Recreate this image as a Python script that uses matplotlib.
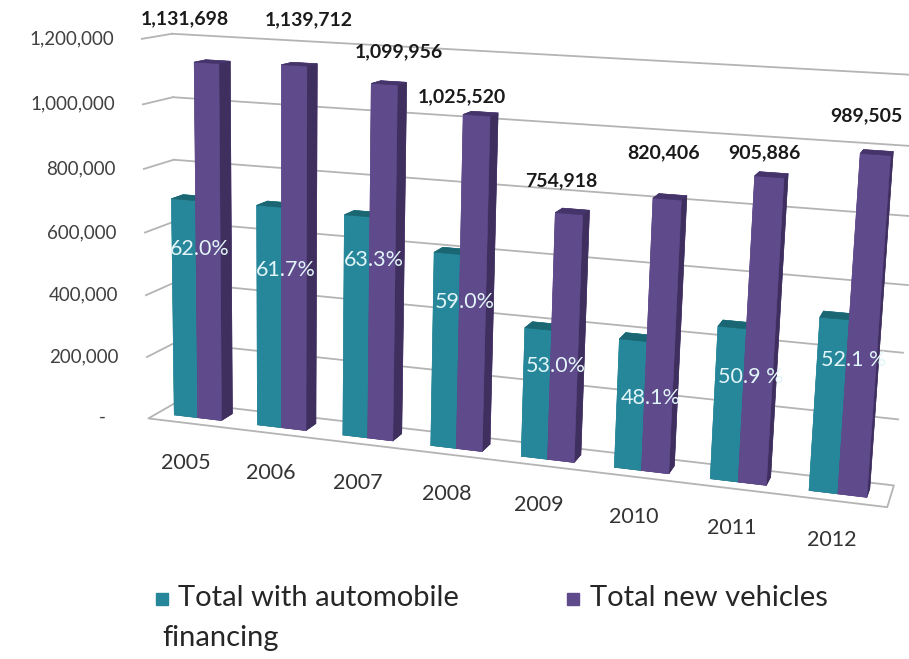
import numpy as np
import matplotlib
matplotlib.use("Agg")
import matplotlib.pyplot as plt
import matplotlib.transforms as mtransforms
from matplotlib.patches import Rectangle
from mpl_toolkits.mplot3d.art3d import Poly3DCollection

# data
years = ["2005", "2006", "2007", "2008", "2009", "2010", "2011", "2012"]
total_new = [1131698, 1139712, 1099956, 1025520, 754918, 820406, 905886, 989505]
pct_labels = ["62.0%", "61.7%", "63.3%", "59.0%", "53.0%", "48.1%", "50.9 %", "52.1 %"]
y_ticks = [0, 200000, 400000, 600000, 800000, 1000000, 1200000]
y_tick_labels = ["-   ", "200,000", "400,000", "600,000", "800,000",
                 "1,000,000", "1,200,000"]
legend_labels = ["Total with automobile\nfinancing", "Total new vehicles"]

pct = np.array([float(s.replace("%", "")) for s in pct_labels])
financed = np.array(total_new) * pct / 100.0

# hand placement of the data labels, in pixels from the bar's front top
total_nudge = [(-22, 44), (15, 46), (15, 32), (-15, 19),
               (-8, 33), (-4, 46), (-5, 24), (-9, 39)]
pct_nudge = [(4, -48), (4, -63), (4, -43), (4, -47),
             (4, -36), (4, -56), (4, -48), (4, -40)]

# colours: face order of bar3d is -z, +z, -y, +y, -x, +x
TEAL = "#27879a"
PURPLE = "#5f4a8b"
teal_faces = ["#1d6c7a", "#1b6673", TEAL, TEAL, TEAL, "#1c6a77"]
purple_faces = ["#45356b", "#44346a", PURPLE, PURPLE, PURPLE, "#3e2f5e"]
GRID = "#b4b4b4"
FONT = "Lato"

n = len(years)
bar_w = 1.0 / 3.5            # gap width 150 %
floor_depth = 2.5 * bar_w    # depth of the floor in category units
bar_y0, bar_dy = 0.3, 0.4    # bar depth as a fraction of the floor

fig = plt.figure(figsize=(9.09, 6.59), dpi=100)
ax = fig.add_axes([0.081, -0.054, 0.936, 1.291], projection="3d",
                  computed_zorder=False)
ax.set_proj_type("persp", focal_length=0.4)
ax.view_init(elev=12, azim=-73.5, roll=-1.5)
ax.set_box_aspect((n * 1.036, floor_depth, 4.3))
ax.set_xlim(0, n)
ax.set_ylim(0, 1)
ax.set_zlim(0, y_ticks[-1])
ax.set_axis_off()


def shifted(dx, dy):
    return mtransforms.offset_copy(ax.transData, fig=fig, x=dx, y=dy,
                                   units="dots")


# floor
floor = Poly3DCollection([[(0, 0, 0), (n, 0, 0), (n, 1, 0), (0, 1, 0)]],
                         facecolor="white", edgecolor=GRID, linewidth=1.3,
                         zorder=0)
ax.add_collection3d(floor)

# gridlines on the back wall and the left wall
for v in y_ticks[1:]:
    ax.plot([0, n], [1, 1], [v, v], color=GRID, lw=1.3, zorder=1)
    ax.plot([0, 0], [0, 1], [v, v], color=GRID, lw=1.3, zorder=1)

# bars (one colour per face, for every bar)
x = np.arange(n)
ax.bar3d(x + 0.75 * bar_w, np.full(n, bar_y0), np.zeros(n),
         bar_w, bar_dy, financed, color=teal_faces * n, shade=False,
         edgecolor=teal_faces * n, linewidth=0.4, zorder=2)
ax.bar3d(x + 0.5, np.full(n, bar_y0), np.zeros(n),
         bar_w, bar_dy, total_new, color=purple_faces * n, shade=False,
         edgecolor=purple_faces * n, linewidth=0.4, zorder=3)

# value axis labels
for v, lab in zip(y_ticks, y_tick_labels):
    ax.text(0, 0, v, lab, transform=shifted(-28, 0), ha="right", va="center",
            fontsize=13.5, color="#404040", family=FONT, zorder=5)

# category labels
for i, yr in enumerate(years):
    ax.text(i + 0.5, 0, 0, yr, transform=shifted(-3, -40), ha="center",
            va="center", fontsize=15.5, color="#333333", family=FONT, zorder=5)

# data labels
for i in range(n):
    ax.text(i + 0.5, bar_y0, financed[i], pct_labels[i],
            transform=shifted(*pct_nudge[i]),
            ha="center", va="center", fontsize=15.5, color="#e2f5f9",
            family=FONT, zorder=6)
    ax.text(i + 0.5 + bar_w / 2, bar_y0, total_new[i], f"{total_new[i]:,}",
            transform=shifted(*total_nudge[i]),
            ha="center", va="center", fontsize=14,
            fontweight="bold", color="#1a1a1a", family=FONT, zorder=6)

# legend
W, H = 909.0, 659.0
for (px, tx), col, lab in zip([(162, 178), (573, 590)], [TEAL, PURPLE],
                              legend_labels):
    fig.add_artist(Rectangle(((px - 6) / W, 1 - 605 / H), 12 / W, 12 / H,
                             transform=fig.transFigure, color=col))
    first, *rest = lab.split("\n")
    fig.text(tx / W, 1 - 598 / H, first, ha="left", va="center",
             fontsize=21, color="#262626", family=FONT)
    for line in rest:
        fig.text(162 / W, 1 - 638 / H, line, ha="left", va="center",
                 fontsize=21, color="#262626", family=FONT)

fig.savefig("out.png", dpi=100)
